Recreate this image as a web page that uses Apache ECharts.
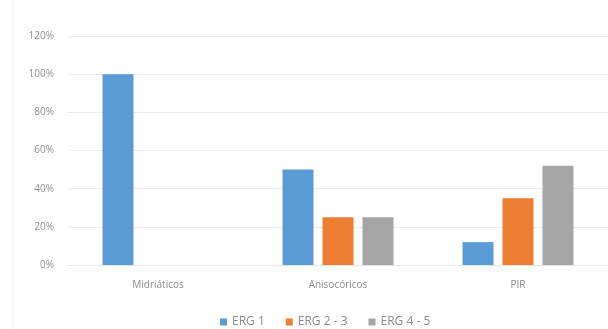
<!DOCTYPE html>
<html><head><meta charset="utf-8">
<script src="https://cdn.jsdelivr.net/npm/echarts@6/dist/echarts.min.js"></script>
<style>html,body{margin:0;padding:0;background:#fff}#c{width:608px;height:329px}</style>
</head><body><div id="c"></div>
<script>
const categories = ['Midriáticos', 'Anisocóricos', 'PIR'];
const erg1 = [100, 50, 12];
const erg23 = [null, 25, 35];
const erg45 = [null, 25, 52];
const seriesNames = ['ERG 1', 'ERG 2 - 3', 'ERG 4 - 5'];
const colors = ['#5B9BD5', '#ED7D31', '#A5A5A5'];

const chart = echarts.init(document.getElementById('c'));
const mk = (name, data, color) => ({
  name, type: 'bar', data, barWidth: 31, barGap: '29%',
  itemStyle: { color }
});
chart.setOption({
  animation: false,
  graphic: [{ type: 'line', shape: { x1: 13, y1: 0, x2: 13, y2: 329 }, style: { stroke: '#eeeeee', lineWidth: 1 } }],
  grid: { left: 68, right: 0, top: 36, bottom: 64 },
  legend: {
    left: 215, top: 311, itemWidth: 7, itemHeight: 7, itemGap: 21, icon: 'rect',
    textStyle: { color: '#8a8a8a', fontSize: 12, fontFamily: 'Open Sans' },
    data: seriesNames
  },
  xAxis: {
    type: 'category', data: categories,
    axisLine: { lineStyle: { color: '#e6e6e6' } }, axisTick: { show: false },
    axisLabel: { color: '#8a8a8a', fontSize: 10, margin: 15, fontFamily: 'Open Sans' }
  },
  yAxis: {
    type: 'value', min: 0, max: 120, interval: 20,
    axisLabel: { formatter: '{value}%', color: '#8f8f8f', fontSize: 10, margin: 14, fontFamily: 'Open Sans' },
    splitLine: { lineStyle: { color: '#ececec' } },
    axisLine: { show: false }, axisTick: { show: false }
  },
  series: [mk(seriesNames[0], erg1, colors[0]), mk(seriesNames[1], erg23, colors[1]), mk(seriesNames[2], erg45, colors[2])]
});
</script></body></html>
